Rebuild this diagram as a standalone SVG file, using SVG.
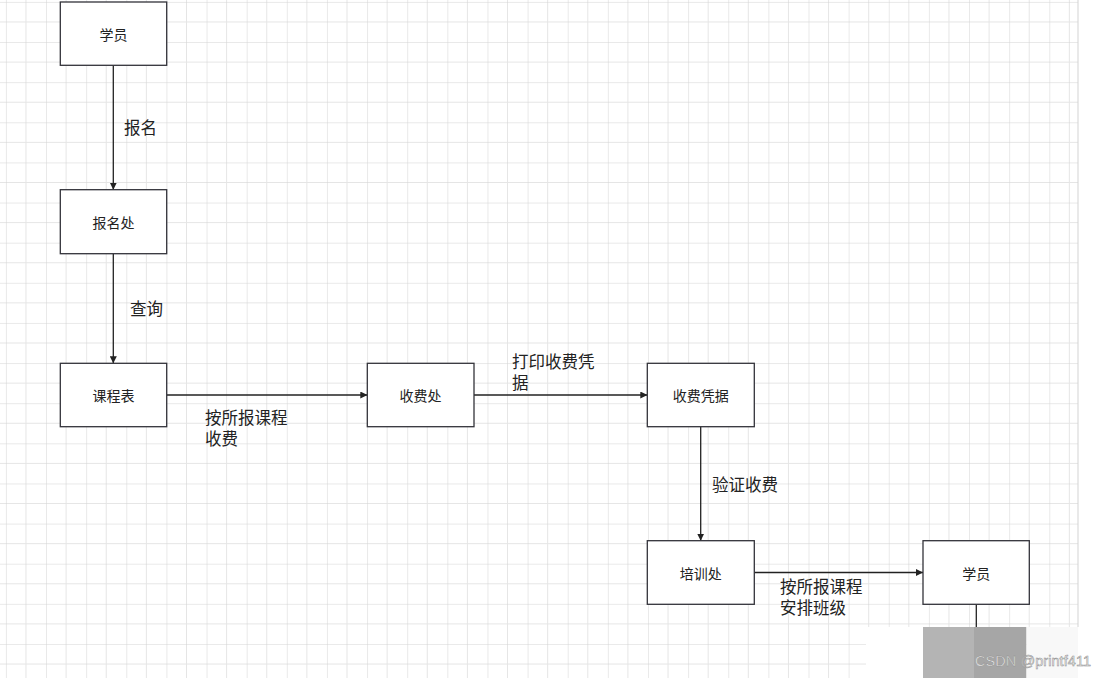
<svg xmlns="http://www.w3.org/2000/svg" width="1107" height="678" viewBox="0 0 1107 678">
<style>
.box{fill:#ffffff;stroke:#33333a;stroke-width:1.3}
.bt{font-family:"Noto Sans CJK SC","Noto Sans",sans-serif;font-size:14px;fill:#222;text-anchor:middle;dominant-baseline:central}
.lb{font-family:"Noto Sans CJK SC","Noto Sans",sans-serif;font-size:16.5px;fill:#222}
.cn{stroke:#222;stroke-width:1.3;fill:none;marker-end:url(#ah)}
</style>
<defs>
<pattern id="grid" patternUnits="userSpaceOnUse" x="5.9" y="1.9" width="40.13" height="40.13">
<line x1="20.07" y1="0" x2="20.07" y2="40.13" stroke="#e5e5e5" stroke-width="1"/>
<line x1="0" y1="20.07" x2="40.13" y2="20.07" stroke="#e5e5e5" stroke-width="1"/>
<line x1="0" y1="0" x2="0" y2="40.13" stroke="#d3d3d3" stroke-width="1"/>
<line x1="0" y1="0" x2="40.13" y2="0" stroke="#d3d3d3" stroke-width="1"/>
</pattern>
<marker id="ah" viewBox="0 0 8 8" refX="8" refY="4" markerWidth="7" markerHeight="7" markerUnits="userSpaceOnUse" orient="auto">
<path d="M0,0 L8,4 L0,8 Z" fill="#222"/>
</marker>
</defs>
<rect x="0" y="0" width="1107" height="678" fill="#ffffff"/>
<rect x="0" y="0" width="1078" height="678" fill="url(#grid)"/>
<line x1="1078" y1="0" x2="1078" y2="627" stroke="#d3d3d3" stroke-width="1"/>
<g id="connectors">
<line class="cn" x1="113.3" y1="65.3" x2="113.3" y2="189.7"/>
<line class="cn" x1="113.3" y1="253.7" x2="113.3" y2="363.3"/>
<line class="cn" x1="166.7" y1="395" x2="367.3" y2="395"/>
<line class="cn" x1="474" y1="395" x2="647.3" y2="395"/>
<line class="cn" x1="700.7" y1="426.7" x2="700.7" y2="540.7"/>
<line class="cn" x1="754.3" y1="572.5" x2="923" y2="572.5"/>
<line x1="976.3" y1="604.3" x2="976.3" y2="630" stroke="#222" stroke-width="1.3"/>
<text class="lb" x="124" y="134">报名</text>
<text class="lb" x="130" y="315">查询</text>
<text class="lb"><tspan x="205" y="424">按所报课程</tspan><tspan x="205" y="445">收费</tspan></text>
<text class="lb"><tspan x="512" y="368">打印收费凭</tspan><tspan x="512" y="389">据</tspan></text>
<text class="lb" x="712" y="491">验证收费</text>
<text class="lb"><tspan x="780" y="593">按所报课程</tspan><tspan x="780" y="614">安排班级</tspan></text>
</g>
<g id="n1"><rect class="box" x="60.3" y="2" width="106.4" height="63.3"/><text class="bt" x="113.5" y="33.7">学员</text></g>
<g id="n2"><rect class="box" x="60.3" y="189.7" width="106.4" height="64"/><text class="bt" x="113.5" y="221.7">报名处</text></g>
<g id="n3"><rect class="box" x="60.3" y="363.3" width="106.4" height="63.4"/><text class="bt" x="113.5" y="395">课程表</text></g>
<g id="n4"><rect class="box" x="367.3" y="363.3" width="106.7" height="63.4"/><text class="bt" x="420.6" y="395">收费处</text></g>
<g id="n5"><rect class="box" x="647.3" y="363.3" width="107" height="63.4"/><text class="bt" x="700.8" y="395">收费凭据</text></g>
<g id="n6"><rect class="box" x="647.3" y="540.7" width="107" height="63.6"/><text class="bt" x="700.8" y="572.5">培训处</text></g>
<g id="n7"><rect class="box" x="923" y="540.7" width="106.3" height="63.6"/><text class="bt" x="976.2" y="572.5">学员</text></g>
<g id="watermark">
<rect x="866" y="627" width="57" height="51" fill="#ffffff"/>
<rect x="923" y="627" width="51" height="51" fill="#b4b4b4"/>
<rect x="974" y="627" width="52.5" height="51" fill="#a6a6a6"/>
<rect x="1026.5" y="627" width="51.5" height="51" fill="#f8f8f8"/>
<text x="975" y="666" font-family="Liberation Sans,Arial,sans-serif" font-size="14.5" fill="#f4f4f4" stroke="#8c8c8c" stroke-width="0.5" textLength="116">CSDN @printf411</text>
</g>
</svg>
